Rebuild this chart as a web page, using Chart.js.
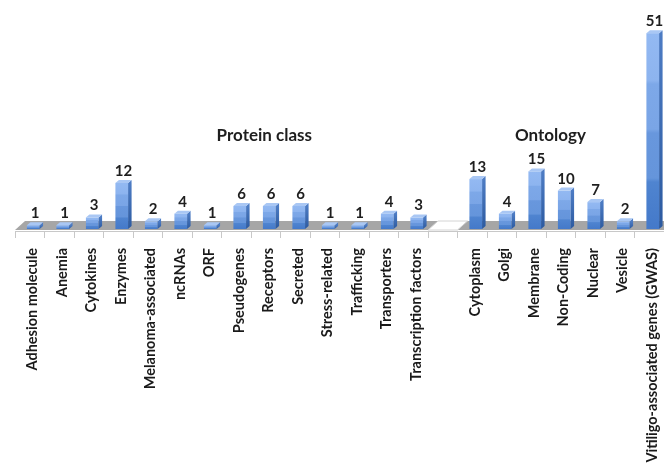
<!DOCTYPE html>
<html>
<head>
<meta charset="utf-8">
<script src="https://cdn.jsdelivr.net/npm/chart.js@4.4.0/dist/chart.umd.min.js"></script>
<style>
  html, body { margin: 0; padding: 0; background: #fff; }
  #wrap { width: 664px; height: 465px; }
</style>
</head>
<body>
<div id="wrap"><canvas id="geneChart"></canvas></div>
<script>
var proteinLabels = ['Adhesion molecule', 'Anemia', 'Cytokines', 'Enzymes', 'Melanoma-associated',
    'ncRNAs', 'ORF', 'Pseudogenes', 'Receptors', 'Secreted', 'Stress-related', 'Trafficking',
    'Transporters', 'Transcription factors'];
var proteinCounts = [1, 1, 3, 12, 2, 4, 1, 6, 6, 6, 1, 1, 4, 3];

var ontologyLabels = ['Cytoplasm', 'Golgi', 'Membrane', 'Non-Coding', 'Nuclear', 'Vesicle',
    'Vitiligo-associated genes (GWAS)'];
var ontologyCounts = [13, 4, 15, 10, 7, 2, 51];

var groupTitles = ['Protein class', 'Ontology'];

// one empty slot keeps the two groups apart
var gapIndex = proteinLabels.length;
var labels = proteinLabels.concat([''], ontologyLabels);
var counts = proteinCounts.concat([null], ontologyCounts);

// where each group title sits, in category units
var titleSlots = [7.95, 17.65];

var FONT = 'Lato, "Liberation Sans", Arial, sans-serif';
var barDepth = { dx: 3.5, dy: -3 };
var floorDepth = { dx: 10, dy: -9 };
var barShift = 3.5;

function frontGradient(ctx, top, bottom) {
    var g = ctx.createLinearGradient(0, top, 0, bottom);
    g.addColorStop(0, '#93b9f2');
    g.addColorStop(0.24, '#8db4ef');
    g.addColorStop(0.26, '#7da8e8');
    g.addColorStop(0.49, '#7aa5e6');
    g.addColorStop(0.51, '#6897dd');
    g.addColorStop(0.74, '#6595db');
    g.addColorStop(0.76, '#4f84d0');
    g.addColorStop(1, '#4479c9');
    return g;
}

function sideGradient(ctx, top, bottom) {
    var g = ctx.createLinearGradient(0, top, 0, bottom);
    g.addColorStop(0, '#4d7cc4');
    g.addColorStop(1, '#2c5aa0');
    return g;
}

// grey floor under the columns, broken by a white strip at the gap
var floorPlugin = {
    id: 'floor',
    beforeDatasetsDraw: function(chart) {
        var ctx = chart.ctx, area = chart.chartArea, xs = chart.scales.x;
        var front = area.bottom - 1, back = front + floorDepth.dy;
        var half = (xs.getPixelForValue(1) - xs.getPixelForValue(0)) / 2;

        ctx.save();
        ctx.fillStyle = '#a6a6a6';
        ctx.beginPath();
        ctx.moveTo(area.left, front);
        ctx.lineTo(area.left + floorDepth.dx, back);
        ctx.lineTo(area.right + floorDepth.dx, back);
        ctx.lineTo(area.right, front);
        ctx.closePath();
        ctx.fill();

        var gx = xs.getPixelForValue(gapIndex);
        ctx.fillStyle = '#ffffff';
        ctx.strokeStyle = '#d4d4d4';
        ctx.lineWidth = 1;
        ctx.beginPath();
        ctx.moveTo(gx - half, front);
        ctx.lineTo(gx - half + floorDepth.dx, back);
        ctx.lineTo(gx + half + floorDepth.dx, back);
        ctx.lineTo(gx + half, front);
        ctx.closePath();
        ctx.fill();
        ctx.stroke();
        ctx.restore();
    }
};

// columns with a side and a top face, the count above each, group titles
var columnsPlugin = {
    id: 'columns3d',
    afterDatasetsDraw: function(chart) {
        var ctx = chart.ctx, xs = chart.scales.x;
        var meta = chart.getDatasetMeta(0);
        var dx = barDepth.dx, dy = barDepth.dy;

        ctx.save();
        meta.data.forEach(function(el, i) {
            var v = counts[i];
            if (v === null || v === undefined) return;
            var p = el.getProps(['x', 'y', 'base', 'width'], true);
            var x0 = p.x + barShift - p.width / 2, x1 = x0 + p.width;
            var top = p.y, bottom = p.base;

            ctx.fillStyle = frontGradient(ctx, top, bottom);
            ctx.fillRect(x0, top, p.width, bottom - top);

            ctx.fillStyle = sideGradient(ctx, top, bottom);
            ctx.beginPath();
            ctx.moveTo(x1, bottom);
            ctx.lineTo(x1 + dx, bottom + dy);
            ctx.lineTo(x1 + dx, top + dy);
            ctx.lineTo(x1, top);
            ctx.closePath();
            ctx.fill();

            ctx.fillStyle = '#a9c7f4';
            ctx.beginPath();
            ctx.moveTo(x0, top);
            ctx.lineTo(x0 + dx, top + dy);
            ctx.lineTo(x1 + dx, top + dy);
            ctx.lineTo(x1, top);
            ctx.closePath();
            ctx.fill();

            ctx.fillStyle = '#1e1e1e';
            ctx.font = 'bold 15px ' + FONT;
            ctx.textAlign = 'center';
            ctx.textBaseline = 'alphabetic';
            ctx.fillText(String(v), x0 + (p.width + dx) / 2, top + dy - 4);
        });

        ctx.font = 'bold 17px ' + FONT;
        ctx.textAlign = 'center';
        ctx.textBaseline = 'middle';
        groupTitles.forEach(function(t, k) {
            ctx.fillText(t, xs.getPixelForValue(titleSlots[k]), 136);
        });
        ctx.restore();
    }
};

var ctx = document.getElementById('geneChart').getContext('2d');
var geneChart = new Chart(ctx, {
    type: 'bar',
    data: {
        labels: labels,
        datasets: [{
            data: counts,
            backgroundColor: 'rgba(0,0,0,0)',
            borderWidth: 0,
            barPercentage: 0.43,
            categoryPercentage: 1.0
        }]
    },
    options: {
        responsive: true,
        maintainAspectRatio: false,
        animation: false,
        layout: { padding: { top: 29, left: 15, right: 0, bottom: 0 } },
        plugins: {
            legend: { display: false },
            tooltip: { enabled: false }
        },
        scales: {
            y: {
                display: false,
                min: -0.52,
                max: 52.08
            },
            x: {
                afterFit: function(scale) {
                    // labels may run past the edges; keep the plot full width
                    scale.height = 234;
                    scale.paddingLeft = 0;
                    scale.paddingRight = 0;
                },
                border: { display: true, color: '#c8c8c8', width: 1 },
                grid: {
                    display: true,
                    offset: true,
                    drawOnChartArea: false,
                    drawTicks: true,
                    tickLength: 7,
                    color: '#c8c8c8'
                },
                ticks: {
                    autoSkip: false,
                    minRotation: 90,
                    maxRotation: 90,
                    padding: 10,
                    labelOffset: 3,
                    color: '#1a1a1a',
                    font: { family: FONT, size: 14.5, weight: 'bold' }
                }
            }
        }
    },
    plugins: [floorPlugin, columnsPlugin]
});
</script>
</body>
</html>
